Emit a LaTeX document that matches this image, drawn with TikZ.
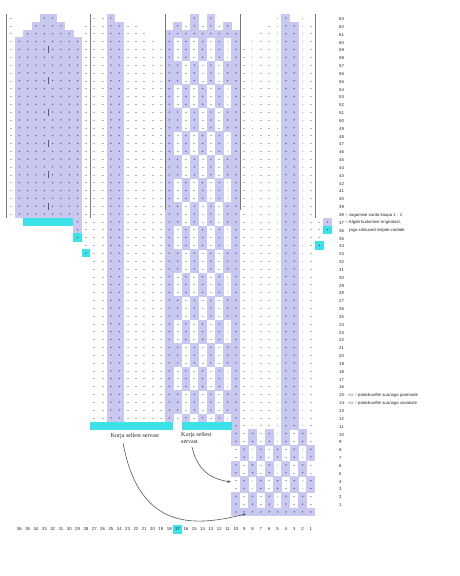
\documentclass[tikz,border=0pt]{standalone}
\usepackage{fontspec}
\setmainfont{Liberation Sans}
\newfontfamily\korjafont{Liberation Serif}
\usetikzlibrary{arrows.meta}
\definecolor{purp}{RGB}{200,200,240}
\definecolor{cyanb}{RGB}{60,226,232}
\definecolor{dotc}{RGB}{90,90,128}
\definecolor{markc}{RGB}{178,178,188}
\definecolor{sepc}{RGB}{120,120,120}
\definecolor{arrc}{RGB}{90,90,90}
\newcommand\cellP[2]{\fill[purp] ({#1-0.53},{#2-0.53}) rectangle ({#1+0.53},{#2+0.53});\fill[dotc] (#1,#2) circle[radius=0.75pt];}
\newcommand\cellC[2]{\fill[cyanb] ({#1-0.53},{#2-0.53}) rectangle ({#1+0.53},{#2+0.53});\fill[dotc] (#1,#2) circle[radius=0.75pt];}
\newcommand\cellW[2]{\draw[markc,line width=0.4pt] ({#1-0.11},#2) -- ({#1+0.11},#2);}
\tikzset{
  lab/.style={font=\fontsize{4.3}{5}\selectfont, inner sep=0pt, text=black!85},
  korja/.style={font=\korjafont\fontsize{6}{7}\selectfont, inner sep=0pt, text=black!85},
  sepline/.style={sepc, line width=0.9pt},
  arr/.style={arrc, line width=0.6pt, -{Stealth[length=3.5pt,width=2.8pt]}}
}
\begin{document}
\begin{tikzpicture}[x=1pt,y=-1pt]
\useasboundingbox (0,0) rectangle (460,576);
\fill[white] (0,0) rectangle (460,576);
\begin{scope}[shift={(11,18)}, x=8.33pt, y=-7.84pt]
% ---------- panel 1 ----------
\foreach \j in {0,...,25}{\cellW{0}{\j}}
\foreach \j in {1,...,29}{\cellW{9}{\j}}
\foreach \j in {3,...,25}{\foreach \c in {1,...,8}{\cellP{\c}{\j}}}
\foreach \c in {2,...,7}{\cellP{\c}{2}}
\foreach \c in {3,...,6}{\cellP{\c}{1}}
\foreach \c in {4,5}{\cellP{\c}{0}}
\fill[cyanb] (1.47,25.47) rectangle (7.53,26.53);
\cellP{8}{26}\cellP{8}{27}\cellC{8}{28}\cellC{9}{30}
\foreach \j in {4,8,...,24}{\draw[dotc,line width=0.6pt] (4.5,{\j-0.45}) -- (4.5,{\j+0.45});}
% ---------- panel 2 ----------
\cellW{10}{0}\cellW{11}{0}\cellP{12}{0}
\foreach \j in {1,...,51}{\cellW{10}{\j}\cellW{11}{\j}\cellP{12}{\j}\cellP{13}{\j}}
\foreach \c in {14,15}{\cellW{\c}{1}}
\foreach \c in {14,...,16}{\cellW{\c}{2}}
\foreach \c in {14,...,17}{\cellW{\c}{3}}
\foreach \j in {4,...,51}{\foreach \c in {14,...,18}{\cellW{\c}{\j}}}
% ---------- panel 3 ----------
\cellP{22}{0}\cellP{24}{0}
\cellP{20}{1}\cellP{22}{1}\cellP{24}{1}\cellP{26}{1}
\cellW{21}{1}\cellW{23}{1}\cellW{25}{1}
\foreach \c in {19,...,27}{\cellP{\c}{2}}
\foreach \j in {3,...,52}{\cellP{27}{\j}}
\foreach \j in {3,...,51}{\cellP{19}{\j}}
\foreach \j in {3,...,51}{\foreach \c in {20,...,26}{%
  \pgfmathtruncatemacro\pp{mod(floor((\j-3)/3)+\c,2)}%
  \ifnum\pp=1 \cellP{\c}{\j}\else\cellW{\c}{\j}\fi}}
% ---------- panel 4 ----------
\cellW{32}{0}\cellP{33}{0}\cellW{35}{0}
\foreach \j in {1,...,52}{\cellP{33}{\j}\cellP{34}{\j}\cellW{35}{\j}\cellW{36}{\j}\cellW{32}{\j}}
\cellW{31}{1}
\foreach \c in {30,31}{\cellW{\c}{2}}
\foreach \c in {29,...,31}{\cellW{\c}{3}}
\foreach \j in {4,...,52}{\foreach \c in {28,...,31}{\cellW{\c}{\j}}}
\cellP{38}{26}\cellC{38}{27}\cellC{37}{29}
\cellW{37}{26}\cellW{37}{27}\cellW{37}{28}
% ---------- bottom section ----------
\foreach \j in {53,...,62}{\foreach \c in {27,...,36}{%
  \pgfmathtruncatemacro\pp{mod(floor((\j-53)/2)+\c,2)}%
  \ifnum\pp=1 \cellP{\c}{\j}\else\cellW{\c}{\j}\fi}}
\foreach \c in {27,...,36}{\cellP{\c}{63}}
% ---------- pick-up bars ----------
\fill[cyanb] (9.5,51.5) rectangle (19.5,52.5);
\fill[cyanb] (20.5,51.5) rectangle (26.5,52.5);
% ---------- separators ----------
\draw[sepline] (-0.5,-0.5) -- (-0.5,25.5);
\draw[sepline] (9.5,-0.5) -- (9.5,25.5);
\draw[sepline] (18.5,-0.5) -- (18.5,24.5);
\draw[sepline] (27.5,-0.5) -- (27.5,24.5);
\draw[sepline] (36.5,-0.5) -- (36.5,25.5);
\end{scope}
% ---------- row numbers ----------
\foreach \n in {1,...,63}{\node[lab,anchor=west] (r\n) at (339,{19+7.84*(63-\n)}) {\n};}
\node[lab,anchor=west] (a38) at ([xshift=1pt]r38.east) {– Jagamise varda kaupa 1 : 1};
\node[lab,anchor=west] (a37) at ([xshift=1pt]r37.east) {– Algab kudumine ringiratast,};
\node[lab,anchor=west] (a36) at ([xshift=5pt]r36.east) {jaga silmused neljale vardale};
\node[lab,anchor=west] (a15) at ([xshift=4pt]r15.east) {<= – palmikuvõte suunaga paremale};
\node[lab,anchor=west] (a14) at ([xshift=4pt]r14.east) {<= – palmikuvõte suunaga vasakule};
% ---------- column numbers ----------
\fill[cyanb] (173.2,524.5) rectangle (182,533.5);
\foreach \n in {1,...,36}{\node[lab] (c\n) at ({11+8.33*(37-\n)},529) {\n};}
% ---------- labels and arrows ----------
\node[korja] (k1) at (135,436) {Korja sellest servast};
\node[korja,align=left,anchor=north west] (k2) at (181,432.5) {Korja sellest\\servast};
\coordinate (e1) at (246,514);
\coordinate (e2) at (231,482);
\draw[arr] ([xshift=-12pt,yshift=-4pt]k1.south) .. controls (140,535) and (200,525) .. (e1);
\draw[arr] ([xshift=11pt,yshift=-3pt]k2.south west) .. controls (198,472) and (212,479) .. (e2);
\end{tikzpicture}
\end{document}
